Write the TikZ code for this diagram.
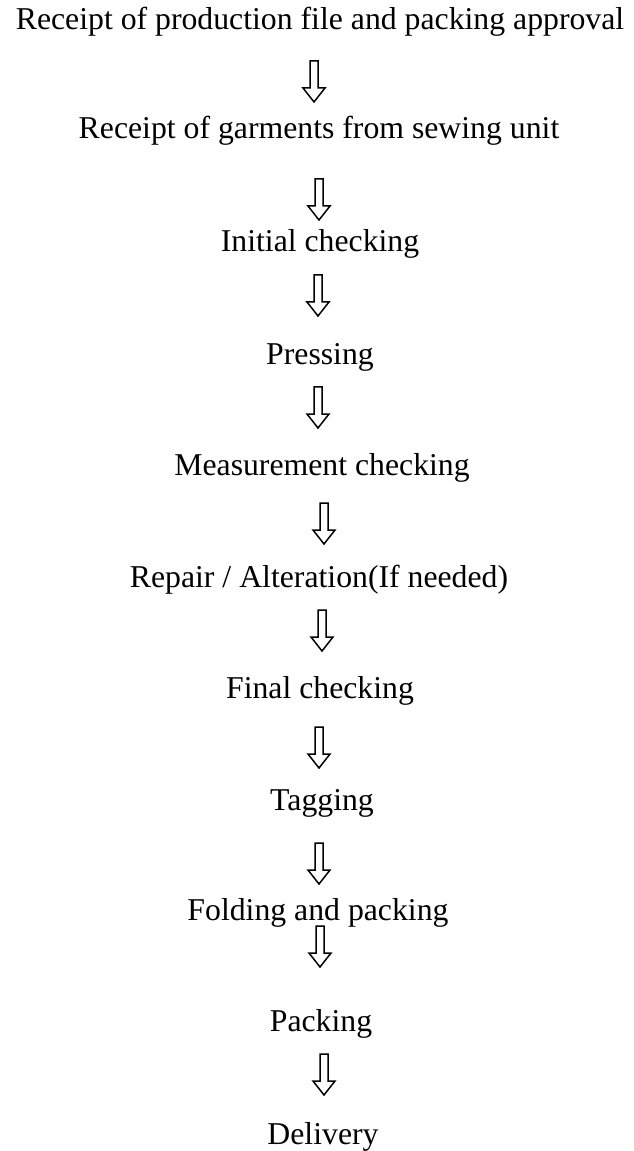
\documentclass[tikz,border=0pt]{standalone}
\usepackage{fontspec}
\setmainfont{Liberation Serif}

\begin{document}
\begin{tikzpicture}[x=0.4pt,y=-0.4pt,
 stage/.style={inner sep=0pt,outer sep=0pt,anchor=base,font=\fontsize{12.7}{15}\selectfont},
 downarrow/.pic={\draw[line width=0.6pt,line join=miter] (-4,0) -- (4,0) -- (4,27) -- (11,27)
 -- (0,41) -- (-11,27) -- (-4,27) -- cycle;}]

 \useasboundingbox (0,0) rectangle (633,1151);

  \node[stage] (receipt)  at (320,30)   {Receipt of production file and packing approval};
  \node[stage] (garments) at (319,139)  {Receipt of garments from sewing unit};
  \node[stage] (initial)  at (320,252)  {Initial checking};
  \node[stage] (pressing) at (320,365)  {Pressing};
  \node[stage] (measure)  at (322,475)  {Measurement checking};
  \node[stage] (repair)   at (319,587)  {Repair / Alteration(If needed)};
  \node[stage] (final)    at (320,698)  {Final checking};
  \node[stage] (tagging)  at (322,810)  {Tagging};
  \node[stage] (folding)  at (318,920)  {Folding and packing};
  \node[stage] (packing)  at (321,1031) {Packing};
  \node[stage] (delivery) at (323,1144) {Delivery};

  \pic at (314,61)   {downarrow};
  \pic at (319,179)  {downarrow};
  \pic at (318,275)  {downarrow};
  \pic at (318,387)  {downarrow};
  \pic at (324,503)  {downarrow};
  \pic at (322,610)  {downarrow};
  \pic at (319,727)  {downarrow};
  \pic at (319,843)  {downarrow};
  \pic at (320,926)  {downarrow};
  \pic at (324,1054) {downarrow};

\end{tikzpicture}
\end{document}
